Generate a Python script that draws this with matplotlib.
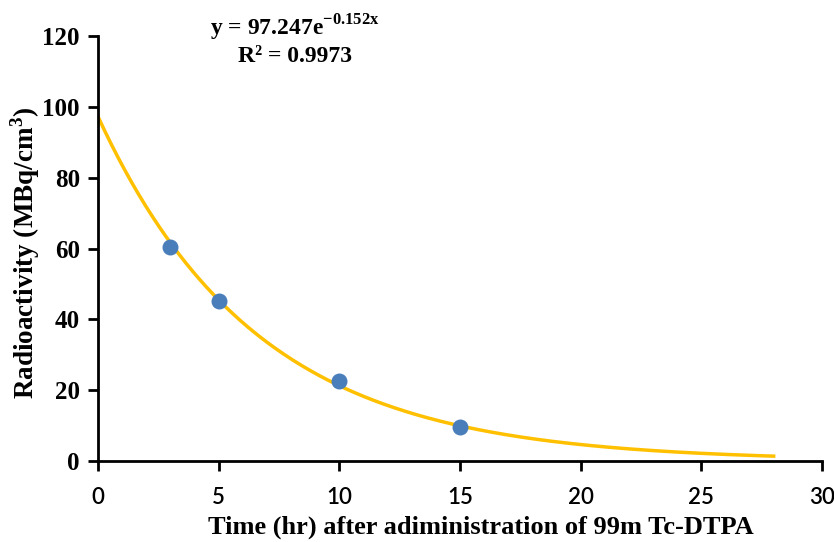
import numpy as np
import matplotlib.pyplot as plt

plt.rcParams['font.family'] = 'Liberation Serif'
plt.rcParams['mathtext.fontset'] = 'custom'
plt.rcParams['mathtext.rm'] = 'Liberation Serif:bold'
plt.rcParams['mathtext.bf'] = 'Liberation Serif:bold'

# measured points
time_hr = [3, 5, 10, 15]
activity = [60.4, 45.3, 22.6, 9.7]

# exponential trendline shown on the chart
fit_a = 97.247
fit_k = 0.152
fit_xmax = 28

xticks = [0, 5, 10, 15, 20, 25, 30]
yticks = [0, 20, 40, 60, 80, 100, 120]

fig = plt.figure(figsize=(8.34, 5.42), dpi=100)
ax = fig.add_axes([0.1175, 0.1494, 0.868, 0.7842])

xs = np.linspace(0, fit_xmax, 300)
ax.plot(xs, fit_a * np.exp(-fit_k * xs), color='#FFC000', linewidth=2.5, zorder=2)
ax.scatter(time_hr, activity, s=110, color='#4A7EBB', zorder=3)

ax.set_xlim(0, 30)
ax.set_ylim(0, 120)
ax.set_xticks(xticks)
ax.set_yticks(yticks)
ax.set_xticklabels([str(t) for t in xticks], fontfamily='Lato', fontweight='semibold', fontsize=16)
ax.set_yticklabels([str(t) for t in yticks], fontweight='bold', fontsize=18)
ax.tick_params(axis='both', direction='out', length=7, width=2, color='black')
ax.tick_params(axis='x', pad=12)
ax.tick_params(axis='y', pad=6)

for side in ['top', 'right']:
    ax.spines[side].set_visible(False)
for side in ['left', 'bottom']:
    ax.spines[side].set_linewidth(2)

ax.set_xlabel('Time (hr) after adiministration of 99m Tc-DTPA', fontweight='bold', fontsize=19)
ax.set_ylabel('Radioactivity (MBq/cm$^3$)', fontweight='bold', fontsize=19.5)
ax.xaxis.set_label_coords(0.529, -0.155)
ax.yaxis.set_label_coords(-0.101, 0.489)
ax.xaxis.label.set_va('center')
ax.yaxis.label.set_va('center')

fig.text(0.354, 0.948, r'y = 97.247e$^{\mathbf{-0.152x}}$', fontweight='bold', fontsize=17,
         ha='center', va='center')
fig.text(0.354, 0.895, 'R² = 0.9973', fontweight='bold', fontsize=17, ha='center', va='center')

fig.savefig('out.png', dpi=100)
